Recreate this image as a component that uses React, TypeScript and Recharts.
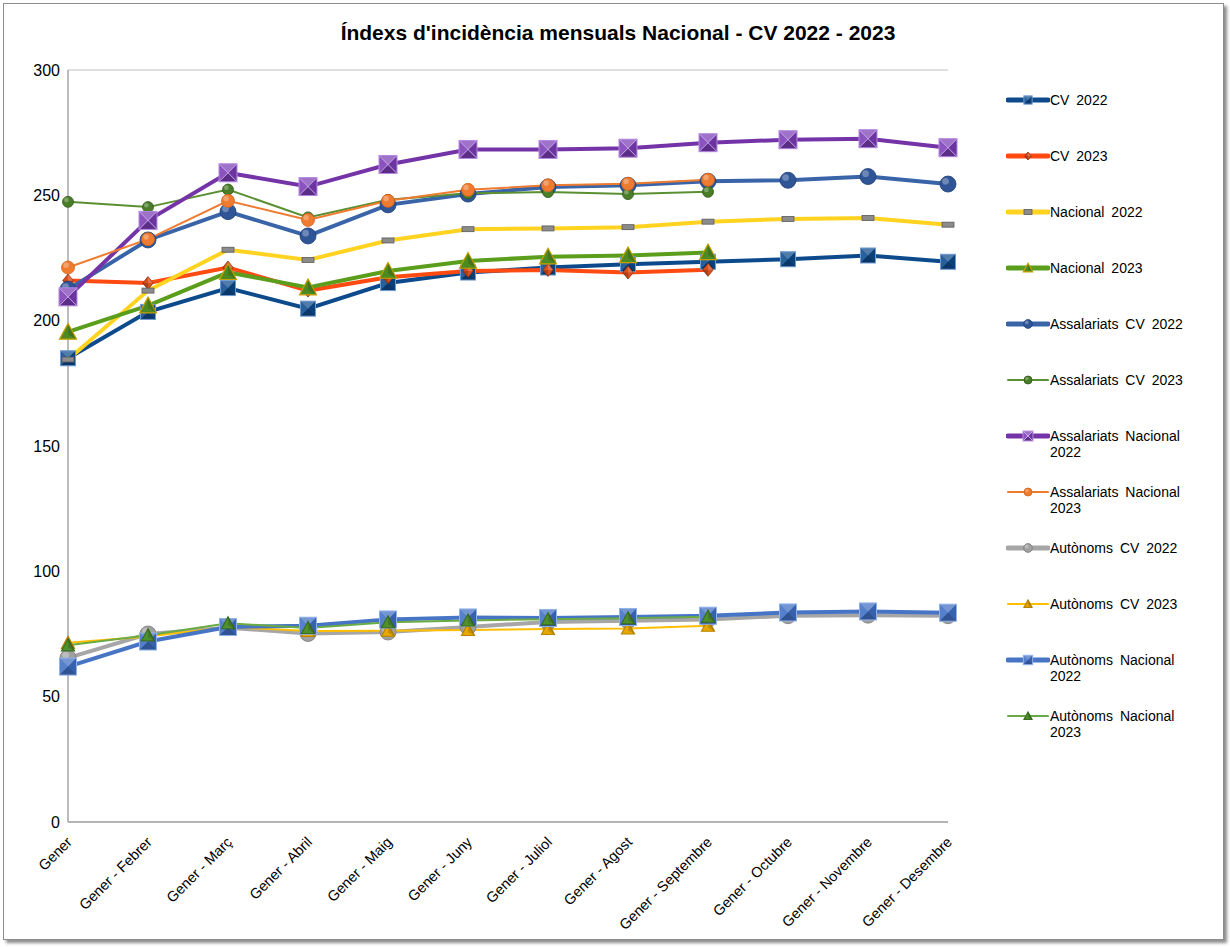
import React from 'react';
import { LineChart, Line, XAxis, YAxis, CartesianGrid } from 'recharts';

const months = [
  'Gener',
  'Gener - Febrer',
  'Gener - Març',
  'Gener - Abril',
  'Gener - Maig',
  'Gener - Juny',
  'Gener - Juliol',
  'Gener - Agost',
  'Gener - Septembre',
  'Gener - Octubre',
  'Gener - Novembre',
  'Gener - Desembre',
];

const yTicks = [0, 50, 100, 150, 200, 250, 300];

const cv2022 = [185, 203.5, 213, 204.8, 215, 219.2, 221.2, 222.5, 223.5, 224.5, 226, 223.5];
const cv2023 = [216, 215, 221.2, 212, 217.3, 219.8, 220.2, 219.2, 220.3];
const nac2022 = [184.5, 212, 228.3, 224.2, 232, 236.5, 236.8, 237.3, 239.5, 240.6, 241, 238.3];
const nac2023 = [195.5, 206, 219.3, 213.2, 219.8, 223.8, 225.5, 226, 227.2];
const assCv2022 = [212.5, 232.2, 243.5, 233.8, 246.2, 250.5, 253.3, 254, 255.6, 256, 257.5, 254.5];
const assCv2023 = [247.4, 245.3, 252.3, 241.2, 248.2, 250.8, 251.3, 250.5, 251.4];
const assNac2022 = [209.5, 240, 259, 253.5, 262.3, 268.3, 268.3, 268.8, 271, 272.2, 272.6, 269];
const assNac2023 = [221.2, 232.5, 247.8, 240.2, 247.8, 252.2, 254, 254.6, 256.2];
const autCv2022 = [65.5, 75, 77.5, 75.2, 75.8, 77.8, 79.8, 80.3, 80.8, 82.3, 82.5, 82.3];
const autCv2023 = [71.5, 74, 77.8, 76.2, 76.3, 76.6, 77, 77.2, 78.3];
const autNac2022 = [62, 72, 77.8, 78.3, 80.8, 81.6, 81.4, 81.8, 82.3, 83.6, 84, 83.5];
const autNac2023 = [70.5, 74.5, 79.3, 77.4, 79.7, 80.4, 80.9, 81.3, 81.9];

type Shape = 'square' | 'xsquare' | 'diamond' | 'dash' | 'triangle' | 'circle';

interface SeriesDef {
  key: string;
  name: string;
  values: number[];
  color: string;
  width: number;
  shape: Shape;
  size: number;
  fill: string;
  stroke: string;
}

const seriesList: SeriesDef[] = [
  { key: 'cv2022', name: 'CV 2022', values: cv2022, color: '#0d4a8c', width: 4, shape: 'square', size: 15, fill: '#0d4a8c', stroke: '#6f9bd1' },
  { key: 'cv2023', name: 'CV 2023', values: cv2023, color: '#ff4a12', width: 4, shape: 'diamond', size: 13, fill: '#d9501e', stroke: '#8a2a0a' },
  { key: 'nac2022', name: 'Nacional 2022', values: nac2022, color: '#ffd320', width: 4, shape: 'dash', size: 12, fill: '#8c8c8c', stroke: '#5a5a5a' },
  { key: 'nac2023', name: 'Nacional 2023', values: nac2023, color: '#5a9e1c', width: 4, shape: 'triangle', size: 17, fill: '#4e8a22', stroke: '#c8a000' },
  { key: 'assCv2022', name: 'Assalariats CV 2022', values: assCv2022, color: '#3a64a8', width: 4, shape: 'circle', size: 16, fill: '#2f5597', stroke: '#1f3f75' },
  { key: 'assCv2023', name: 'Assalariats CV 2023', values: assCv2023, color: '#5a8f32', width: 2, shape: 'circle', size: 11, fill: '#4a7d28', stroke: '#2f5a18' },
  { key: 'assNac2022', name: 'Assalariats Nacional 2022', values: assNac2022, color: '#7434a8', width: 4, shape: 'xsquare', size: 18, fill: '#7a3cb4', stroke: '#b48ae0' },
  { key: 'assNac2023', name: 'Assalariats Nacional 2023', values: assNac2023, color: '#ef7b30', width: 2, shape: 'circle', size: 13, fill: '#ef7b30', stroke: '#d0651e' },
  { key: 'autCv2022', name: 'Autònoms CV 2022', values: autCv2022, color: '#a6a6a6', width: 4, shape: 'circle', size: 16, fill: '#a0a0a0', stroke: '#7a7a7a' },
  { key: 'autCv2023', name: 'Autònoms CV 2023', values: autCv2023, color: '#ffbe00', width: 2, shape: 'triangle', size: 13, fill: '#e8a800', stroke: '#b88400' },
  { key: 'autNac2022', name: 'Autònoms Nacional 2022', values: autNac2022, color: '#4775c6', width: 4, shape: 'square', size: 17, fill: '#3f6fc4', stroke: '#8fb2ea' },
  { key: 'autNac2023', name: 'Autònoms Nacional 2023', values: autNac2023, color: '#6aaa45', width: 2, shape: 'triangle', size: 13, fill: '#4f8f2e', stroke: '#3a6e20' },
];

const data = months.map((m, i) => {
  const row: Record<string, string | number | null> = { month: m };
  seriesList.forEach((s) => {
    row[s.key] = i < s.values.length ? s.values[i] : null;
  });
  return row;
});

function Marker({ shape, cx, cy, size, fill, stroke }: { shape: Shape; cx: number; cy: number; size: number; fill: string; stroke: string }) {
  const h = size / 2;
  if (shape === 'square' || shape === 'xsquare') {
    const tl = `${cx - h},${cy - h}`;
    const tr = `${cx + h},${cy - h}`;
    const bl = `${cx - h},${cy + h}`;
    const br = `${cx + h},${cy + h}`;
    const c = `${cx},${cy}`;
    return (
      <g>
        <rect x={cx - h} y={cy - h} width={size} height={size} fill={fill} />
        <polygon points={`${tl} ${tr} ${c}`} fill="#ffffff" fillOpacity={0.28} />
        <polygon points={`${tl} ${bl} ${c}`} fill="#ffffff" fillOpacity={0.12} />
        <polygon points={`${tr} ${br} ${c}`} fill="#000000" fillOpacity={0.12} />
        <polygon points={`${bl} ${br} ${c}`} fill="#000000" fillOpacity={0.25} />
        {shape === 'xsquare' && (
          <g stroke="#c8a8ec" strokeWidth={1}>
            <line x1={cx - h} y1={cy - h} x2={cx + h} y2={cy + h} />
            <line x1={cx + h} y1={cy - h} x2={cx - h} y2={cy + h} />
          </g>
        )}
        <rect x={cx - h} y={cy - h} width={size} height={size} fill="none" stroke={stroke} strokeWidth={1} />
      </g>
    );
  }
  if (shape === 'diamond') {
    return (
      <g>
        <polygon points={`${cx},${cy - h} ${cx + h * 0.8},${cy} ${cx},${cy + h} ${cx - h * 0.8},${cy}`} fill={fill} stroke={stroke} strokeWidth={0.8} />
        <polygon points={`${cx},${cy - h} ${cx + h * 0.8},${cy} ${cx},${cy}`} fill="#ffffff" fillOpacity={0.2} />
        <polygon points={`${cx},${cy + h} ${cx - h * 0.8},${cy} ${cx},${cy}`} fill="#000000" fillOpacity={0.2} />
      </g>
    );
  }
  if (shape === 'dash') {
    return <rect x={cx - h} y={cy - 2.5} width={size} height={5} fill={fill} stroke={stroke} strokeWidth={0.8} />;
  }
  if (shape === 'triangle') {
    return (
      <g>
        <polygon points={`${cx},${cy - h} ${cx + h},${cy + h * 0.85} ${cx - h},${cy + h * 0.85}`} fill={fill} stroke={stroke} strokeWidth={1.2} />
        <polygon points={`${cx},${cy - h} ${cx + h},${cy + h * 0.85} ${cx},${cy + h * 0.3}`} fill="#000000" fillOpacity={0.15} />
      </g>
    );
  }
  return (
    <g>
      <circle cx={cx} cy={cy} r={h} fill={fill} stroke={stroke} strokeWidth={0.8} />
      <circle cx={cx - h * 0.3} cy={cy - h * 0.35} r={h * 0.42} fill="#ffffff" fillOpacity={0.3} />
    </g>
  );
}

function makeDot(s: SeriesDef) {
  return (props: any) => {
    const { cx, cy, index } = props;
    if (cx == null || cy == null || props.value == null) return <g key={`${s.key}-${index}`} />;
    return (
      <g key={`${s.key}-${index}`}>
        <Marker shape={s.shape} cx={cx} cy={cy} size={s.size} fill={s.fill} stroke={s.stroke} />
      </g>
    );
  };
}

function XTick(props: any) {
  const { x, y, payload } = props;
  const ax = x + 5;
  const ay = y + 13;
  return (
    <text
      x={ax}
      y={ay}
      transform={`rotate(-45, ${ax}, ${ay})`}
      textAnchor="end"
      fontSize={14.5}
      fontFamily="'Liberation Sans', Arial, sans-serif"
      fill="#000"
    >
      {payload.value}
    </text>
  );
}

function LegendSwatch({ s }: { s: SeriesDef }) {
  const legendSize = Math.max(8, s.size * 0.55);
  return (
    <svg width={44} height={14} style={{ display: 'block', flex: 'none' }}>
      <line x1={2} y1={7} x2={42} y2={7} stroke={s.color} strokeWidth={s.width === 4 ? 5 : 2} strokeLinecap="round" />
      <Marker shape={s.shape} cx={22} cy={7} size={legendSize} fill={s.fill} stroke={s.stroke} />
    </svg>
  );
}

export default function App() {
  return (
    <div style={{ position: 'absolute', left: 0, top: 0, width: 1230, height: 947, background: '#fff' }}>
      <div
        style={{
          position: 'absolute',
          left: 3,
          top: 3,
          width: 1219,
          height: 935,
          border: '1px solid #8c8c8c',
          boxShadow: '3px 3px 3px rgba(0,0,0,0.45)',
          background: '#fff',
        }}
      />
      <div
        style={{
          position: 'absolute',
          left: 0,
          top: 21,
          width: 1230,
          textAlign: 'center',
          fontFamily: "'Liberation Sans Narrow', 'Arial Narrow', 'Liberation Sans', Arial, sans-serif",
          fontWeight: 'bold',
          fontSize: 21,
          color: '#000',
          paddingLeft: 3,
        }}
      >
        Índexs d'incidència mensuals Nacional - CV 2022 - 2023
      </div>
      <div style={{ position: 'absolute', left: 0, top: 0 }}>
        <LineChart width={1230} height={947} data={data} margin={{ top: 70, right: 282, bottom: 0, left: 0 }}>
          <CartesianGrid vertical={false} stroke="#bfbfbf" strokeWidth={1} />
          <XAxis
            dataKey="month"
            interval={0}
            height={125}
            tick={<XTick />}
            tickLine={false}
            axisLine={{ stroke: '#a6a6a6', strokeWidth: 1.5 }}
          />
          <YAxis
            yAxisId="left"
            domain={[0, 300]}
            ticks={yTicks}
            width={68}
            tickLine={false}
            axisLine={{ stroke: '#a6a6a6', strokeWidth: 1.5 }}
            tick={{ fontSize: 16, fill: '#000', fontFamily: "'Liberation Sans', Arial, sans-serif" }}
          />
          <YAxis
            yAxisId="right"
            orientation="right"
            domain={[0, 300]}
            ticks={yTicks}
            width={0}
            tick={false}
            tickLine={false}
            axisLine={{ stroke: '#a6a6a6', strokeWidth: 1.5 }}
          />
          {seriesList.map((s) => (
            <Line
              key={s.key}
              yAxisId="left"
              type="linear"
              dataKey={s.key}
              name={s.name}
              stroke={s.color}
              strokeWidth={s.width}
              dot={makeDot(s)}
              activeDot={false}
              connectNulls={false}
              isAnimationActive={false}
            />
          ))}
        </LineChart>
      </div>
      <div style={{ position: 'absolute', left: 1006, top: 0, width: 200 }}>
        {seriesList.map((s, i) => (
          <div
            key={s.key}
            style={{
              position: 'absolute',
              left: 0,
              top: 92 + i * 56,
              display: 'flex',
              alignItems: 'flex-start',
              width: 200,
            }}
          >
            <div style={{ marginTop: 1 }}>
              <LegendSwatch s={s} />
            </div>
            <div
              style={{
                width: 142,
                fontFamily: "'Liberation Sans', Arial, sans-serif",
                fontSize: 14,
                lineHeight: '16px',
                color: '#000',
                wordSpacing: 3,
              }}
            >
              {s.name}
            </div>
          </div>
        ))}
      </div>
    </div>
  );
}
